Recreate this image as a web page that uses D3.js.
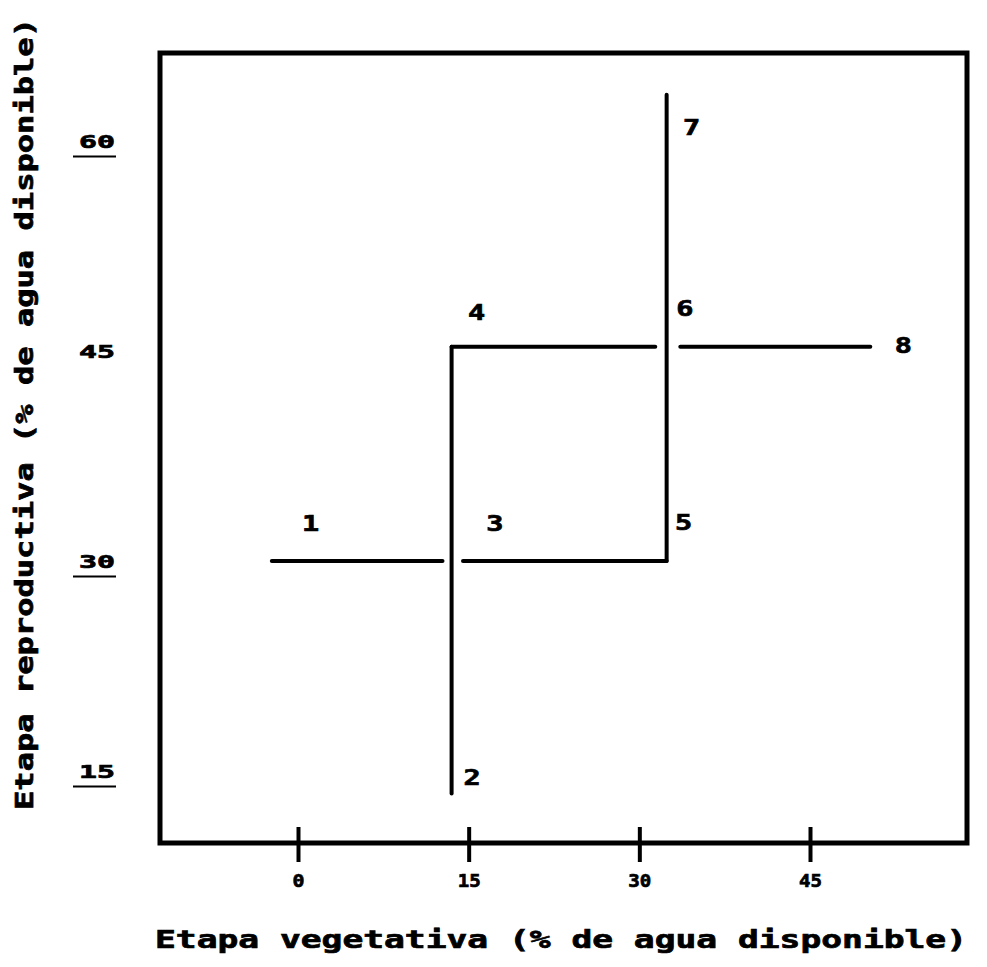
<!DOCTYPE html>
<html>
<head>
<meta charset="utf-8">
<script src="https://cdn.jsdelivr.net/npm/d3@7"></script>
<style>
  body { margin: 0; background: #fff; }
  svg text { font-family: "DejaVu Sans Mono", monospace; font-weight: bold; fill: #000; stroke: #000; stroke-width: 0.7px; }
</style>
</head>
<body>
<svg id="chart" width="987" height="967"></svg>
<script>
// tick values for both axes
var xTicks = [0, 15, 30, 45];
var yTicks = [15, 30, 45, 60];
var yUnderlined = [15, 30, 60];

// line segments in data units (x = vegetativa, y = reproductiva)
var segments = [
    {x1: -2.3, y1: 30,   x2: 12.7, y2: 30},
    {x1: 14.5, y1: 30,   x2: 32.4, y2: 30},
    {x1: 13.5, y1: 13.4, x2: 13.5, y2: 45.3},
    {x1: 13.5, y1: 45.3, x2: 31.4, y2: 45.3},
    {x1: 33.6, y1: 45.3, x2: 50.3, y2: 45.3},
    {x1: 32.4, y1: 30,   x2: 32.4, y2: 63.3}
];

// point numbers and where they sit
var pointLabels = ["1", "2", "3", "4", "5", "6", "7", "8"];
var labelX = [1.1, 15.3, 17.3, 15.7, 33.9, 34.0, 34.6, 53.2];
var labelY = [32.7, 14.6, 32.7, 47.8, 32.8, 48.1, 61.0, 45.4];

var xTitle = "Etapa vegetativa (% de agua disponible)";
var yTitle = "Etapa reproductiva (% de agua disponible)";

function init() {
    var svg = d3.select("#chart");

    var x = d3.scaleLinear().domain([0, 45]).range([298, 810]);
    var y = d3.scaleLinear().domain([15, 60]).range([771, 141]);

    // frame
    var frame = {left: 160, right: 967, top: 53, bottom: 843};
    svg.append("rect")
        .attr("x", frame.left)
        .attr("y", frame.top)
        .attr("width", frame.right - frame.left)
        .attr("height", frame.bottom - frame.top)
        .style("fill", "none")
        .style("stroke", "#000")
        .style("stroke-width", 5);

    // x axis: ticks crossing the bottom edge
    var xAxis = d3.axisBottom(x)
        .tickValues(xTicks)
        .tickSize(0)
        .tickPadding(0)
        .tickFormat(d3.format("d"));
    var gx = svg.append("g")
        .attr("transform", "translate(0," + frame.bottom + ")")
        .call(xAxis);
    gx.select(".domain").remove();
    gx.selectAll(".tick").append("line")
        .attr("y1", -16)
        .attr("y2", 19)
        .style("stroke", "#000")
        .style("stroke-width", 4);
    gx.selectAll(".tick text")
        .attr("y", 44)
        .attr("dy", null)
        .style("font-size", "18px")
        .style("font-family", "'DejaVu Sans Mono', monospace")
        .attr("textLength", function(d) { return d < 10 ? 12 : 23; })
        .attr("lengthAdjust", "spacingAndGlyphs");

    // y axis: labels only, outside the frame
    var yAxis = d3.axisLeft(y)
        .tickValues(yTicks)
        .tickSize(0)
        .tickPadding(0)
        .tickFormat(d3.format("d"));
    var gy = svg.append("g")
        .attr("transform", "translate(97,0)")
        .call(yAxis);
    gy.select(".domain").remove();
    gy.selectAll(".tick text")
        .attr("x", 0)
        .attr("dy", "0.36em")
        .attr("text-anchor", "middle")
        .style("font-size", "18px")
        .style("font-family", "'DejaVu Sans Mono', monospace")
        .attr("textLength", 36)
        .attr("lengthAdjust", "spacingAndGlyphs");
    gy.selectAll(".tick")
        .filter(function(d) { return yUnderlined.indexOf(d) >= 0; })
        .append("line")
        .attr("x1", -24)
        .attr("x2", 19)
        .attr("y1", 15)
        .attr("y2", 15)
        .style("stroke", "#000")
        .style("stroke-width", 2);

    // data segments
    svg.selectAll("line.seg")
        .data(segments)
        .enter()
        .append("line")
        .attr("class", "seg")
        .attr("x1", function(d) { return x(d.x1); })
        .attr("y1", function(d) { return y(d.y1); })
        .attr("x2", function(d) { return x(d.x2); })
        .attr("y2", function(d) { return y(d.y2); })
        .style("stroke", "#000")
        .style("stroke-width", 4)
        .style("stroke-linecap", "round");

    // point numbers
    svg.selectAll("text.num")
        .data(pointLabels)
        .enter()
        .append("text")
        .attr("class", "num")
        .attr("transform", function(d, i) {
            return "translate(" + x(labelX[i]) + "," + y(labelY[i]) + ") scale(1.3,1)";
        })
        .attr("text-anchor", "middle")
        .attr("dy", "0.36em")
        .style("font-size", "22px")
        .text(function(d) { return d; });

    // axis titles
    svg.append("text")
        .attr("x", 155)
        .attr("y", 948)
        .attr("textLength", 812)
        .attr("lengthAdjust", "spacingAndGlyphs")
        .style("font-size", "24px")
        .text(xTitle);

    svg.append("text")
        .attr("transform", "translate(33,810) rotate(-90)")
        .attr("textLength", 792)
        .attr("lengthAdjust", "spacingAndGlyphs")
        .style("font-size", "24px")
        .text(yTitle);
}

init();
</script>
</body>
</html>
